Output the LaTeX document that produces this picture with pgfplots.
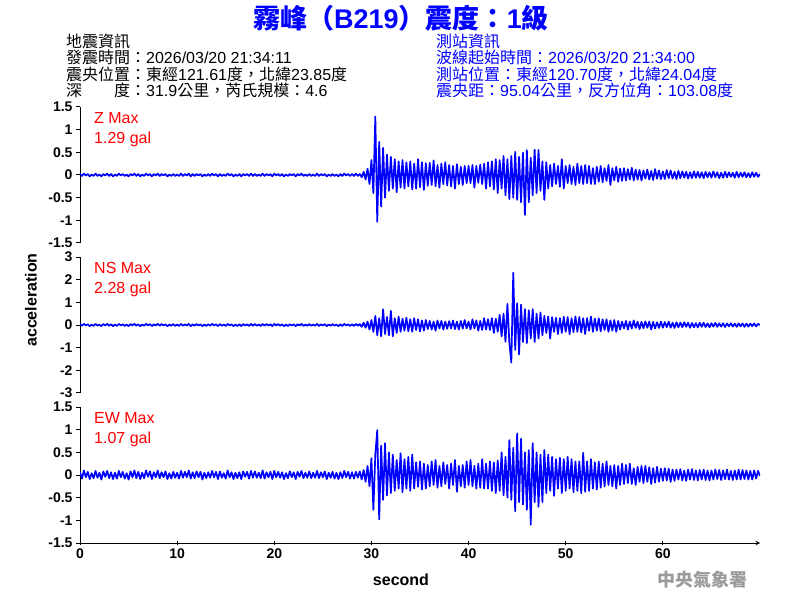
\documentclass[border=0pt]{standalone}
\usepackage{fontspec}
\usepackage{pgfplots}
\pgfplotsset{compat=1.18}
\setmainfont{Liberation Sans}
\newfontfamily\cjk{Noto Sans CJK TC}
\definecolor{tblue}{RGB}{0,0,255}
\definecolor{tred}{RGB}{255,0,0}
\definecolor{tgray}{RGB}{155,155,155}
\newcommand\tickf{\fontsize{14}{14}\selectfont\bfseries}
\newcommand\labf{\fontsize{16}{16}\selectfont\bfseries}
\newcommand\hdrf{\fontsize{16}{16}\selectfont}
\newcommand\redf{\fontsize{16}{16}\selectfont}
\newcommand\ttlf{\fontsize{27}{27}\selectfont\bfseries}
\pgfplotsset{
  seis/.style={
    scale only axis, width=680pt, height=136pt,
    xmin=0, xmax=70, anchor=south west,
    axis y line=left,
    axis line style={-, black, line width=1pt},
    every tick/.style={black, line width=1pt},
    major tick length=4pt,
    tick align=outside,
    ticklabel style={font=\tickf},
  },
  trace/.style={tblue, line width=1.7pt, line join=round, mark=none},
}
\begin{document}
\begin{tikzpicture}[x=1pt,y=1pt]
\useasboundingbox (0,0) rectangle (800,600);

% ---------- Z ----------
\begin{axis}[seis, at={(80pt,357pt)}, ymin=-1.5, ymax=1.5, axis x line=none,
  ytick={-1.5,-1,-0.5,0,0.5,1,1.5}, yticklabels={-1.5,-1,-0.5,0,0.5,1,1.5}]
\addplot[trace] table[header=false, row sep=\\, x expr=\coordindex*0.2, y index=0]{
0.02\\-0.02\\0.03\\-0.01\\0.02\\-0.03\\0.01\\-0.02\\0.03\\-0.02\\
0.01\\-0.03\\0.02\\-0.01\\0.03\\-0.02\\0.02\\-0.03\\0.01\\-0.02\\
0.03\\-0.01\\0.02\\-0.02\\0.01\\-0.03\\0.02\\-0.01\\0.03\\-0.02\\
0.02\\-0.03\\0.01\\-0.02\\0.03\\-0.01\\0.02\\-0.03\\0.02\\-0.01\\
0.03\\-0.02\\0.02\\-0.01\\0.02\\-0.03\\0.01\\-0.02\\0.02\\-0.02\\
0.01\\-0.02\\0.03\\-0.02\\0.02\\-0.01\\0.03\\-0.03\\0.02\\-0.02\\
0.02\\-0.01\\0.02\\-0.03\\0.01\\-0.02\\0.02\\-0.02\\0.03\\-0.01\\
0.02\\-0.03\\0.02\\-0.02\\0.01\\-0.02\\0.03\\-0.01\\0.02\\-0.03\\
0.01\\-0.02\\0.02\\-0.03\\0.02\\-0.01\\0.02\\-0.02\\0.03\\-0.02\\
0.02\\-0.02\\0.01\\-0.02\\0.03\\-0.02\\0.02\\-0.01\\0.02\\-0.03\\
0.03\\-0.01\\0.02\\-0.02\\0.02\\-0.03\\0.01\\-0.02\\0.02\\-0.01\\
0.02\\-0.03\\0.02\\-0.01\\0.03\\-0.02\\0.01\\-0.02\\0.02\\-0.02\\
0.01\\-0.02\\0.03\\-0.02\\0.02\\-0.01\\0.02\\-0.03\\0.01\\-0.02\\
0.02\\-0.02\\0.01\\-0.03\\0.02\\-0.02\\0.03\\-0.01\\0.02\\-0.02\\
0.02\\-0.02\\0.03\\-0.02\\0.02\\-0.05\\0.07\\-0.1\\0.14\\-0.2\\
0.33\\-0.4\\1.29\\-1.03\\0.73\\-0.7\\0.6\\-0.5\\0.45\\-0.35\\
0.4\\-0.3\\0.35\\-0.38\\0.3\\-0.28\\0.33\\-0.3\\0.28\\-0.25\\
0.3\\-0.32\\0.25\\-0.3\\0.35\\-0.27\\0.28\\-0.33\\0.26\\-0.24\\
0.27\\-0.22\\0.32\\-0.25\\0.22\\-0.28\\0.25\\-0.2\\0.28\\-0.23\\
0.22\\-0.25\\0.2\\-0.3\\0.24\\-0.2\\0.18\\-0.22\\0.2\\-0.18\\
0.2\\-0.18\\0.22\\-0.28\\0.2\\-0.17\\0.23\\-0.2\\0.25\\-0.3\\
0.28\\-0.25\\0.3\\-0.32\\0.35\\-0.4\\0.33\\-0.3\\0.42\\-0.45\\
0.35\\-0.53\\0.42\\-0.5\\0.51\\-0.55\\0.4\\-0.6\\0.49\\-0.88\\
0.55\\-0.6\\0.38\\-0.45\\0.56\\-0.4\\0.55\\-0.35\\0.3\\-0.55\\
0.28\\-0.3\\0.22\\-0.25\\0.25\\-0.2\\0.2\\-0.26\\0.35\\-0.3\\
0.2\\-0.18\\0.22\\-0.2\\0.18\\-0.22\\0.25\\-0.18\\0.2\\-0.2\\
0.22\\-0.18\\0.2\\-0.2\\0.15\\-0.2\\0.18\\-0.15\\0.2\\-0.16\\
0.15\\-0.13\\0.22\\-0.22\\0.15\\-0.12\\0.18\\-0.15\\0.14\\-0.13\\
0.15\\-0.12\\0.13\\-0.1\\0.16\\-0.12\\0.12\\-0.1\\0.11\\-0.12\\
0.1\\-0.08\\0.12\\-0.1\\0.09\\-0.11\\0.13\\-0.08\\0.1\\-0.09\\
0.08\\-0.09\\0.11\\-0.07\\0.1\\-0.08\\0.07\\-0.09\\0.09\\-0.07\\
0.08\\-0.06\\0.07\\-0.08\\0.06\\-0.07\\0.08\\-0.06\\0.07\\-0.06\\
0.06\\-0.07\\0.07\\-0.05\\0.06\\-0.06\\0.08\\-0.05\\0.06\\-0.07\\
0.05\\-0.06\\0.07\\-0.05\\0.06\\-0.04\\0.05\\-0.06\\0.07\\-0.05\\
0.05\\-0.04\\0.06\\-0.05\\0.04\\-0.05\\0.06\\-0.04\\0.05\\-0.04\\
0.02\\
};
\end{axis}

% ---------- NS ----------
\begin{axis}[seis, at={(80pt,207pt)}, ymin=-3, ymax=3, axis x line=none,
  ytick={-3,-2,-1,0,1,2,3}, yticklabels={-3,-2,-1,0,1,2,3}]
\addplot[trace] table[header=false, row sep=\\, x expr=\coordindex*0.2, y index=0]{
0.04\\-0.03\\0.05\\-0.02\\0.03\\-0.05\\0.02\\-0.04\\0.05\\-0.03\\
0.02\\-0.05\\0.04\\-0.02\\0.05\\-0.03\\0.03\\-0.05\\0.02\\-0.04\\
0.05\\-0.02\\0.03\\-0.04\\0.02\\-0.05\\0.04\\-0.02\\0.05\\-0.03\\
0.03\\-0.05\\0.02\\-0.03\\0.05\\-0.02\\0.04\\-0.05\\0.03\\-0.02\\
0.05\\-0.03\\0.04\\-0.02\\0.03\\-0.05\\0.02\\-0.03\\0.04\\-0.04\\
0.02\\-0.04\\0.05\\-0.03\\0.03\\-0.02\\0.05\\-0.05\\0.03\\-0.03\\
0.04\\-0.02\\0.03\\-0.05\\0.02\\-0.04\\0.03\\-0.03\\0.05\\-0.02\\
0.03\\-0.05\\0.04\\-0.03\\0.02\\-0.04\\0.05\\-0.02\\0.03\\-0.05\\
0.02\\-0.04\\0.03\\-0.05\\0.04\\-0.02\\0.03\\-0.04\\0.05\\-0.03\\
0.04\\-0.03\\0.02\\-0.04\\0.05\\-0.03\\0.04\\-0.02\\0.03\\-0.05\\
0.05\\-0.02\\0.04\\-0.03\\0.03\\-0.05\\0.02\\-0.04\\0.03\\-0.02\\
0.03\\-0.05\\0.03\\-0.02\\0.05\\-0.04\\0.02\\-0.03\\0.04\\-0.03\\
0.02\\-0.03\\0.05\\-0.04\\0.03\\-0.02\\0.04\\-0.05\\0.02\\-0.03\\
0.04\\-0.03\\0.02\\-0.05\\0.03\\-0.04\\0.05\\-0.02\\0.03\\-0.04\\
0.03\\-0.04\\0.05\\-0.03\\0.04\\-0.08\\0.1\\-0.12\\0.15\\-0.2\\
0.22\\-0.3\\0.4\\-0.45\\0.3\\-0.5\\0.69\\-0.4\\0.35\\-0.45\\
0.62\\-0.5\\0.3\\-0.35\\0.37\\-0.3\\0.28\\-0.25\\0.32\\-0.28\\
0.25\\-0.3\\0.3\\-0.22\\0.25\\-0.28\\0.2\\-0.25\\0.22\\-0.18\\
0.18\\-0.2\\0.15\\-0.25\\0.2\\-0.15\\0.18\\-0.2\\0.15\\-0.17\\
0.17\\-0.15\\0.2\\-0.18\\0.15\\-0.2\\0.18\\-0.16\\0.22\\-0.15\\
0.15\\-0.2\\0.25\\-0.15\\0.2\\-0.25\\0.18\\-0.22\\0.3\\-0.2\\
0.25\\-0.22\\0.3\\-0.35\\0.28\\-0.3\\0.45\\-0.5\\0.5\\-0.74\\
0.93\\-0.8\\-1.66\\2.31\\-1.1\\0.96\\-1.3\\0.9\\-0.75\\0.7\\
-0.8\\0.65\\-0.6\\0.7\\-0.75\\0.5\\-0.6\\0.55\\-0.45\\0.4\\
-0.35\\0.38\\-0.6\\0.35\\-0.3\\0.32\\-0.4\\0.3\\-0.35\\0.36\\
-0.3\\0.35\\-0.4\\0.3\\-0.32\\0.38\\-0.3\\0.35\\-0.33\\0.3\\
-0.4\\0.3\\-0.25\\0.37\\-0.3\\0.28\\-0.25\\0.3\\-0.28\\0.25\\
-0.22\\0.25\\-0.3\\0.2\\-0.25\\0.22\\-0.3\\0.18\\-0.2\\0.15\\
-0.15\\0.18\\-0.2\\0.15\\-0.16\\0.2\\-0.13\\0.15\\-0.18\\0.14\\
-0.14\\0.16\\-0.12\\0.15\\-0.2\\0.14\\-0.15\\0.12\\-0.13\\0.15\\
-0.12\\0.13\\-0.1\\0.15\\-0.12\\0.1\\-0.13\\0.12\\-0.1\\0.11\\
-0.1\\0.12\\-0.08\\0.1\\-0.12\\0.09\\-0.1\\0.08\\-0.11\\0.1\\
-0.08\\0.1\\-0.09\\0.07\\-0.1\\0.08\\-0.07\\0.09\\-0.08\\0.07\\
-0.07\\0.08\\-0.09\\0.07\\-0.06\\0.08\\-0.07\\0.06\\-0.08\\0.07\\
-0.06\\0.07\\-0.08\\0.06\\-0.07\\0.06\\-0.05\\0.07\\-0.06\\0.05\\
0\\
};
\end{axis}

% ---------- EW ----------
\begin{axis}[seis, at={(80pt,57pt)}, ymin=-1.5, ymax=1.5,
  ytick={-1.5,-1,-0.5,0,0.5,1,1.5}, yticklabels={-1.5,-1,-0.5,0,0.5,1,1.5},
  axis x line=bottom, xtick={0,10,20,30,40,50,60}, xticklabels={0,10,20,30,40,50,60}]
\addplot[trace] table[header=false, row sep=\\, x expr=\coordindex*0.2, y index=0]{
0.06\\-0.08\\0.1\\-0.05\\0.07\\-0.09\\0.04\\-0.07\\0.09\\-0.06\\
0.05\\-0.1\\0.08\\-0.04\\0.09\\-0.07\\0.06\\-0.09\\0.05\\-0.08\\
0.09\\-0.05\\0.07\\-0.08\\0.04\\-0.1\\0.08\\-0.05\\0.1\\-0.07\\
0.07\\-0.09\\0.05\\-0.07\\0.1\\-0.04\\0.08\\-0.09\\0.06\\-0.05\\
0.1\\-0.07\\0.06\\-0.05\\0.08\\-0.09\\0.04\\-0.08\\0.07\\-0.06\\
0.05\\-0.08\\0.09\\-0.06\\0.07\\-0.05\\0.1\\-0.08\\0.06\\-0.07\\
0.08\\-0.05\\0.07\\-0.1\\0.05\\-0.07\\0.06\\-0.06\\0.09\\-0.05\\
0.07\\-0.09\\0.08\\-0.06\\0.04\\-0.08\\0.1\\-0.05\\0.06\\-0.09\\
0.05\\-0.07\\0.06\\-0.09\\0.08\\-0.04\\0.07\\-0.08\\0.09\\-0.06\\
0.08\\-0.06\\0.05\\-0.07\\0.1\\-0.08\\0.06\\-0.05\\0.07\\-0.09\\
0.09\\-0.05\\0.07\\-0.06\\0.06\\-0.09\\0.04\\-0.07\\0.08\\-0.05\\
0.06\\-0.09\\0.07\\-0.04\\0.09\\-0.07\\0.05\\-0.06\\0.08\\-0.07\\
0.05\\-0.06\\0.09\\-0.07\\0.06\\-0.05\\0.08\\-0.09\\0.05\\-0.06\\
0.07\\-0.08\\0.05\\-0.09\\0.06\\-0.07\\0.09\\-0.05\\0.07\\-0.08\\
0.06\\-0.08\\0.07\\-0.06\\0.08\\-0.1\\0.11\\-0.15\\0.2\\-0.25\\
0.37\\-0.77\\0.45\\0.99\\-0.98\\0.65\\-0.55\\0.7\\-0.45\\0.5\\
-0.4\\0.45\\-0.35\\0.33\\-0.3\\0.48\\-0.38\\0.35\\-0.3\\0.4\\
-0.35\\0.45\\-0.3\\0.28\\-0.26\\0.3\\-0.32\\0.25\\-0.3\\0.22\\
-0.25\\0.3\\-0.22\\0.33\\-0.28\\0.2\\-0.25\\0.28\\-0.2\\0.22\\
-0.3\\0.25\\-0.22\\0.33\\-0.37\\0.2\\-0.25\\0.22\\-0.28\\0.3\\
-0.22\\0.33\\-0.25\\0.2\\-0.3\\0.25\\-0.28\\0.35\\-0.3\\0.25\\
-0.3\\0.3\\-0.35\\0.28\\-0.4\\0.32\\-0.35\\0.5\\-0.45\\0.4\\
-0.5\\0.77\\-0.55\\0.6\\-0.8\\0.92\\-0.6\\0.8\\-0.65\\0.5\\
-0.77\\0.55\\-1.1\\0.7\\-0.6\\0.5\\-0.7\\0.45\\-0.6\\0.55\\
-0.4\\0.45\\-0.35\\0.4\\-0.46\\0.35\\-0.3\\0.38\\-0.4\\0.35\\
-0.35\\0.4\\-0.3\\0.35\\-0.38\\0.3\\-0.35\\0.3\\-0.4\\0.49\\
-0.37\\0.3\\-0.35\\0.35\\-0.3\\0.28\\-0.32\\0.3\\-0.28\\0.25\\
-0.25\\0.3\\-0.22\\0.2\\-0.25\\0.22\\-0.3\\0.2\\-0.22\\0.25\\
-0.2\\0.22\\-0.18\\0.25\\-0.2\\0.15\\-0.22\\0.18\\-0.15\\0.2\\
-0.18\\0.2\\-0.15\\0.17\\-0.2\\0.15\\-0.17\\0.18\\-0.15\\0.14\\
-0.13\\0.15\\-0.12\\0.14\\-0.15\\0.12\\-0.13\\0.12\\-0.1\\0.13\\
-0.12\\0.1\\-0.13\\0.12\\-0.1\\0.13\\-0.11\\0.1\\-0.12\\0.11\\
-0.1\\0.12\\-0.11\\0.1\\-0.12\\0.1\\-0.1\\0.12\\-0.09\\0.11\\
-0.11\\0.1\\-0.09\\0.12\\-0.1\\0.09\\-0.11\\0.1\\-0.1\\0.12\\
-0.1\\0.11\\-0.09\\0.1\\-0.1\\0.09\\-0.1\\0.1\\-0.08\\0.09\\
-0.02\\
};
\end{axis}

% ---------- texts ----------
\node[anchor=base, inner sep=0, text=tblue, font=\ttlf] at (401,571.5)
  {{\cjk\bfseries 霧峰（}B219{\cjk\bfseries ）震度：}1{\cjk\bfseries 級}};

\begin{scope}[every node/.style={anchor=base west, inner sep=0, font=\hdrf}]
\node at (66,552.5) {{\cjk 地震資訊}};
\node at (66,536.2) {{\cjk 發震時間：}2026/03/20 21:34:11};
\node at (66,519.9) {{\cjk 震央位置：東經}121.61{\cjk 度，北緯}23.85{\cjk 度}};
\node at (66,503.6) {{\cjk 深　　度：}31.9{\cjk 公里，芮氏規模：}4.6};
\node[text=tblue] at (436,552.5) {{\cjk 測站資訊}};
\node[text=tblue] at (436,536.2) {{\cjk 波線起始時間：}2026/03/20 21:34:00};
\node[text=tblue] at (436,519.9) {{\cjk 測站位置：東經}120.70{\cjk 度，北緯}24.04{\cjk 度}};
\node[text=tblue] at (436,503.6) {{\cjk 震央距：}95.04{\cjk 公里，反方位角：}103.08{\cjk 度}};
\end{scope}

\begin{scope}[every node/.style={anchor=base west, inner sep=0, font=\redf, text=tred}]
\node at (94,476.7) {Z Max};
\node at (94,456.7) {1.29 gal};
\node at (94,326.7) {NS Max};
\node at (94,306.7) {2.28 gal};
\node at (94,176.7) {EW Max};
\node at (94,156.7) {1.07 gal};
\end{scope}

\node[rotate=90, font=\labf, inner sep=0] at (31,300) {acceleration};
\node[anchor=base, font=\labf, inner sep=0] at (401,15) {second};
\node[anchor=base west, inner sep=0, text=tgray, font=\fontsize{18}{18}\selectfont] at (657,14) {\cjk\bfseries 中央氣象署};
\end{tikzpicture}
\end{document}
